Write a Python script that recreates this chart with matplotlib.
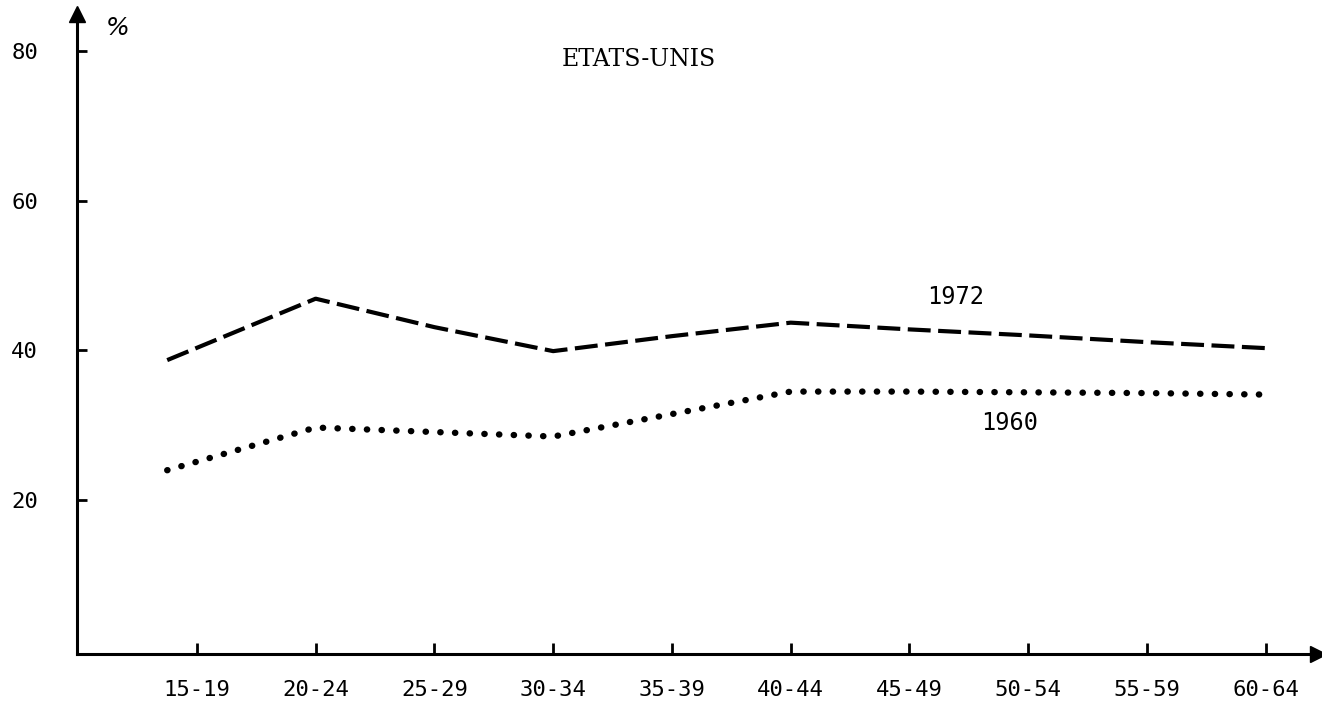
"""
Etats-Unis: taux par groupe d'age, 1960 vs 1972 (recreation of a typewritten chart).
"""

import numpy as np
import matplotlib.pyplot as plt


# ── Data ──────────────────────────────────────────────────────────────────────

age_groups = ["15-19", "20-24", "25-29", "30-34", "35-39",
              "40-44", "45-49", "50-54", "55-59", "60-64"]

# the first point is drawn a little left of its tick in the original
x_pts = [-0.25, 1, 2, 3, 4, 5, 6, 7, 8, 9]

rate_1972 = [38.7, 46.9, 43.1, 39.9, 41.9, 43.7, 42.8, 42.0, 41.1, 40.3]
rate_1960 = [24.0, 29.7, 29.1, 28.5, 31.5, 34.5, 34.5, 34.4, 34.3, 34.1]

y_ticks = [20, 40, 60, 80]


# ── Figure ────────────────────────────────────────────────────────────────────

fig = plt.figure(figsize=(13.22, 7.02), dpi=100)
ax = fig.add_axes([0.0582, 0.0684, 0.9388, 0.9116])

ax.plot(x_pts, rate_1972, color="black", linewidth=3,
        linestyle=(0, (5.5, 1.8)), dash_capstyle="butt")
ax.plot(x_pts, rate_1960, color="black", linewidth=4.6,
        linestyle=(0, (0.05, 2.25)), dash_capstyle="round")

ax.set_xlim(-1.01, 9.44)
ax.set_ylim(-0.53, 84.9)

ax.set_xticks(range(len(age_groups)))
ax.set_xticklabels(age_groups, fontsize=16, family="DejaVu Sans Mono")
ax.set_yticks(y_ticks)
ax.set_yticklabels([str(v) for v in y_ticks], fontsize=16,
                   family="DejaVu Sans Mono")
ax.tick_params(axis="x", direction="in", length=8, width=2, pad=19)
ax.tick_params(axis="y", direction="in", length=7, width=2, pad=28)

for side in ["top", "right"]:
    ax.spines[side].set_visible(False)
for side in ["left", "bottom"]:
    ax.spines[side].set_linewidth(2.2)

# axis arrows
ax.plot(0, 1, marker="^", markersize=12, color="black",
        transform=ax.transAxes, clip_on=False)
ax.plot(1, 0, marker=">", markersize=12, color="black",
        transform=ax.transAxes, clip_on=False)

# labels
ax.text(-0.67, 83.0, "%", fontsize=18, style="italic", ha="center", va="center")
ax.text(3.72, 78.8, "ETATS-UNIS", fontsize=17, family="DejaVu Serif",
        ha="center", va="center")
ax.text(6.39, 47.1, "1972", fontsize=17, family="DejaVu Sans Mono",
        ha="center", va="center")
ax.text(6.84, 30.3, "1960", fontsize=17, family="DejaVu Sans Mono",
        ha="center", va="center")

fig.savefig("out.png", dpi=100)
